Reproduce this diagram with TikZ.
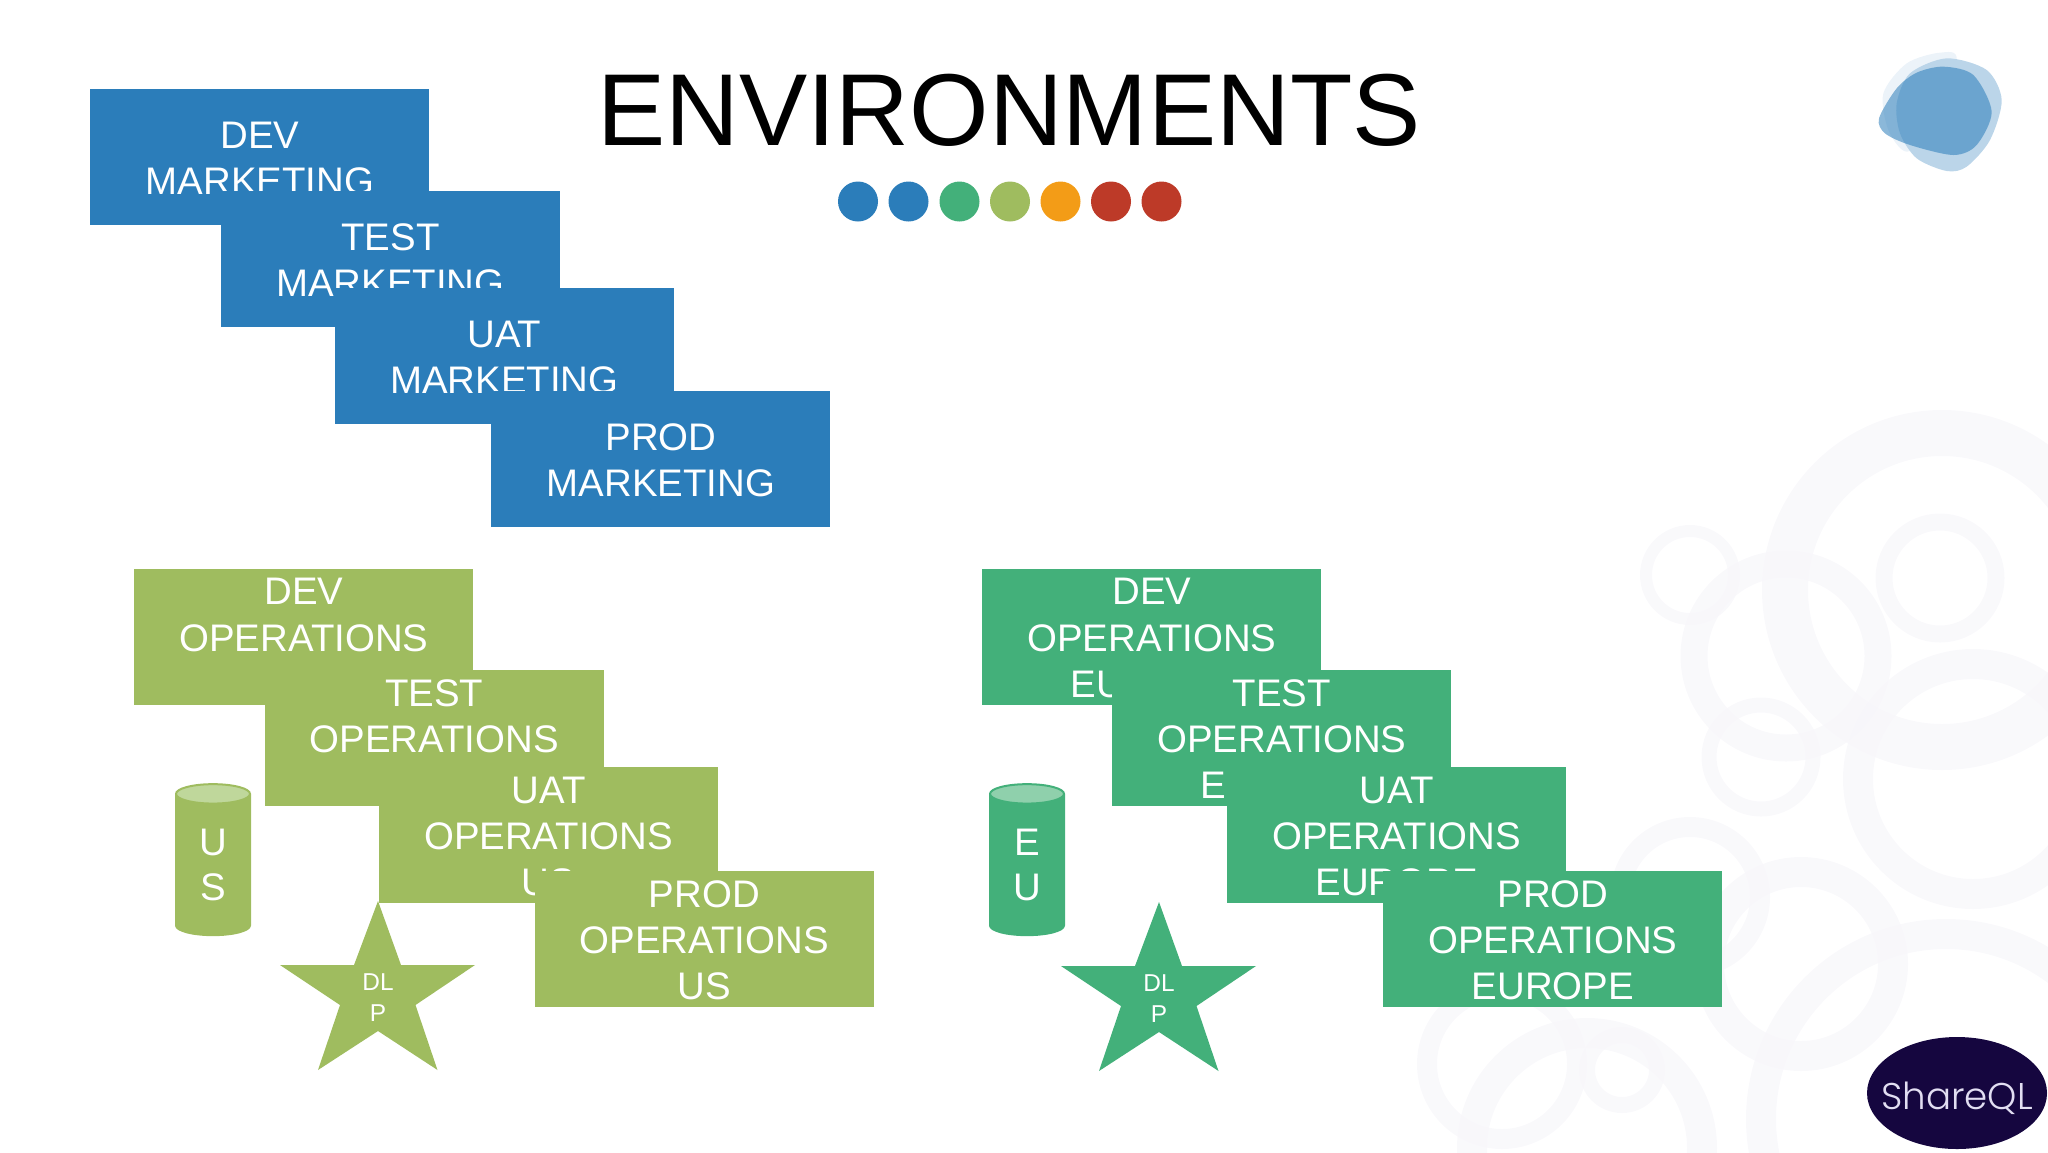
\documentclass[tikz,border=0pt]{standalone}
\usepackage{fontspec}
\setmainfont{Liberation Sans}
\newfontfamily\logofont{Poppins Light}
\usetikzlibrary{shapes.geometric}
\definecolor{mktblue}{HTML}{2B7DBA}
\definecolor{opsus}{HTML}{9FBC5F}
\definecolor{opseu}{HTML}{43B07A}
\definecolor{usend}{HTML}{BFD79B}
\definecolor{euend}{HTML}{8FD0AC}
\definecolor{dotorange}{HTML}{F39C17}
\definecolor{dotred}{HTML}{BD3A28}
\definecolor{ringgray}{HTML}{F7F6FA}
\definecolor{logoink}{HTML}{15063F}
\definecolor{logotext}{HTML}{E2DEF2}
\newcommand{\boxstrut}{\rule{0pt}{14.3pt}}
\tikzset{
    envbox/.style={anchor=north west, minimum width=169.5pt, minimum height=68pt, inner sep=0pt,
        text=white, align=center, font=\fontsize{19.2}{23.1}\selectfont},
    dbcyl/.style={cylinder, shape border rotate=90, aspect=0.7, minimum width=37pt, minimum height=75.5pt,
        inner sep=0pt, cylinder uses custom fill, text=white, align=center, font=\fontsize{19.2}{22.8}\selectfont},
    dlptext/.style={text=white, align=center, inner sep=0pt, font=\fontsize{12.2}{15.5}\selectfont},
    ring/.style={draw=ringgray, draw opacity=0.7}
}

\begin{document}
\begin{tikzpicture}[x=0.5pt, y=-0.5pt]
\useasboundingbox (0,0) rectangle (2048,1152);

% Background rings
\foreach \cx/\cy/\rr/\wd in {1942/590/157/46, 1786/656/92/27, 1690/575/44/12, 1940/578/56/17,
    1973/779/115/30, 1761/757/52/15, 1690/897/70/20, 1801/964/92/30, 1587/1148/115/30,
    1502/1064/75/20, 1622/1070/35/16, 1946/1119/185/30} {
    \draw[ring, line width=\wd*0.5pt] (\cx,\cy) circle[radius=\rr];
}

% Title
\node[anchor=base, inner sep=0pt, font=\fontsize{51.1}{60}\selectfont] (title) at (1009,145) {ENVIRONMENTS};
\foreach \x/\col in {858/mktblue, 908.5/mktblue, 959.5/opseu, 1010/opsus, 1060.5/dotorange, 1111/dotred, 1161.5/dotred} {
    \fill[\col] (\x,201.5) circle[radius=20];
}

% Logo blob
\begin{scope}[shift={(1800,30)}, x=0.16667pt, y=-0.16667pt]
\fill[mktblue!9] plot[smooth cycle] coordinates {(250,190) (320,100) (420,68) (470,90) (400,300) (320,365) (265,300)};
\fill[mktblue!32] plot[smooth cycle] coordinates {(330,130) (440,85) (560,120) (605,210) (570,330) (500,410) (440,423) (350,385) (300,310) (290,220)};
\fill[mktblue, fill opacity=0.55] plot[smooth cycle] coordinates {(237,265) (290,175) (350,128) (430,110) (520,135) (575,245) (530,345) (460,375) (330,345) (255,310)};
\end{scope}

% Marketing
\foreach \nm/\x/\y in {DEV/90/89, TEST/220.5/191, UAT/334.5/288, PROD/491/391} {
    \node[envbox, fill=mktblue] (\nm-mkt) at (\x,\y) {\boxstrut\nm\\MARKETING};
}

% Operations US
\node[dbcyl, cylinder body fill=opsus, cylinder end fill=usend, draw=opsus, line width=1pt] (us-db) at (213,865) {U\\S};
\foreach \nm/\x/\y in {DEV/134/568.5, TEST/264.3/670, UAT/378.7/767, PROD/534.4/871} {
    \node[envbox, fill=opsus] (\nm-us) at (\x,\y) {\boxstrut\nm\\OPERATIONS\\US};
}

% Operations Europe
\node[dbcyl, cylinder body fill=opseu, cylinder end fill=euend, draw=opseu, line width=1pt] (eu-db) at (1027,865) {E\\U};
\foreach \nm/\x/\y in {DEV/982/568.5, TEST/1112/670, UAT/1226.7/767, PROD/1383/871} {
    \node[envbox, fill=opseu] (\nm-eu) at (\x,\y) {\boxstrut\nm\\OPERATIONS\\EUROPE};
}

% DLP stars
\foreach \nm/\ox/\oy/\col in {us/0/0/opsus, eu/781/1/opseu} {
    \fill[\col, shift={(\ox,\oy)}] (378,901) -- (401,965) -- (475,965) -- (415.5,1005) -- (437.5,1070)
        -- (378,1031) -- (318,1070) -- (340,1005) -- (280,965) -- (354,965) -- cycle;
    \node[dlptext] (\nm-dlp) at (378+\ox,998+\oy) {DL\\P};
}

% ShareQL logo
\node[ellipse, fill=logoink, minimum width=90pt, minimum height=56pt, inner sep=0pt] (shareql) at (1957,1093) {};
\node[text=logotext, inner sep=0pt, font=\logofont\fontsize{18.6}{22}\selectfont] (shareql-text) at (1957,1098) {ShareQL};
\end{tikzpicture}
\end{document}
